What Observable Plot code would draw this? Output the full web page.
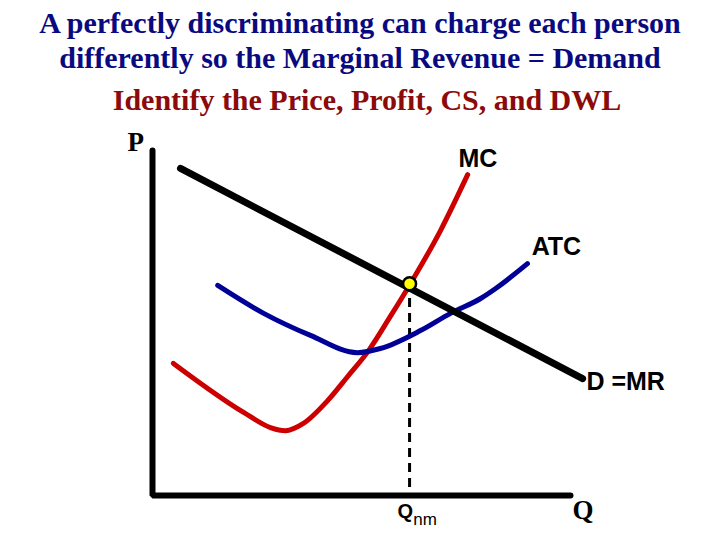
<!DOCTYPE html>
<html>
<head>
<meta charset="utf-8">
<script src="https://cdn.jsdelivr.net/npm/d3@7"></script>
<script src="https://cdn.jsdelivr.net/npm/@observablehq/plot@0.6"></script>
<style>
  html, body { margin: 0; padding: 0; background: #fff; }
  #page { position: relative; width: 720px; height: 540px; overflow: hidden; background: #fff; }
  .title { position: absolute; left: 0; width: 720px; text-align: center; font-family: "Liberation Serif", serif; font-weight: bold; font-size: 30px; line-height: 30px; white-space: nowrap; }
  #chart { position: absolute; left: 0; top: 120px; }
</style>
</head>
<body>
<div id="page">
  <div class="title" style="top:8px; color:#0a0a80;">A perfectly discriminating can charge each person</div>
  <div class="title" style="top:43px; color:#0a0a80;">differently so the Marginal Revenue = Demand</div>
  <div class="title" style="top:85px; left:7px; color:#8b0a0a;">Identify the Price, Profit, CS, and DWL</div>
  <div id="chart"></div>
</div>
<script>
// Axes (quantity, price)
const axisQ = [0, 0, 10];
const axisP = [10, 0, 0];

// Demand = MR line
const demandQ = [0.67, 10.29];
const demandP = [9.48, 3.39];

// Marginal cost curve
const mcQ = [0.50, 2.18, 2.82, 3.18, 3.61, 4.19, 4.67, 5.17, 5.69, 6.17, 6.89, 7.54];
const mcP = [3.83, 2.41, 1.97, 1.88, 2.09, 2.75, 3.45, 4.20, 5.19, 6.14, 7.68, 9.30];

// Average total cost curve
const atcQ = [1.56, 2.66, 3.78, 4.90, 5.45, 6.41, 7.13, 7.85, 8.21, 8.97];
const atcP = [6.09, 5.28, 4.64, 4.14, 4.26, 4.78, 5.28, 5.71, 6.00, 6.72];

// Equilibrium point (MC = D)
const eqQ = [6.15];
const eqP = [6.14];

// Curve labels
const curveLabels = ["MC", "ATC", "D =MR"];
const curveLabelQ = [7.32, 9.07, 10.38];
const curveLabelP = [9.74, 7.20, 3.29];

// Axis labels
const axisLabels = ["P", "Q"];
const axisLabelQ = [-0.60, 10.05];
const axisLabelP = [10.23, -0.43];

// Quantity label Q_nm
const qnmMain = ["Q"];
const qnmSub = ["nm"];
const qnmQ = [5.86];
const qnmP = [-0.46];
const qnmSubQ = [6.24];
const qnmSubP = [-0.70];

const idx = a => a.map((_, i) => i);

const chart = Plot.plot({
  width: 720,
  height: 420,
  marginLeft: 152,
  marginRight: 150,
  marginTop: 30,
  marginBottom: 45,
  x: { domain: [0, 10], axis: null },
  y: { domain: [0, 10], axis: null },
  marks: [
    // dashed drop line
    Plot.ruleX(eqQ, { x: d => d, y1: 0.23, y2: eqP[0], stroke: "black", strokeWidth: 3, strokeDasharray: "9,6" }),
    // MC
    Plot.line(idx(mcQ), { x: i => mcQ[i], y: i => mcP[i], curve: "monotone-x", stroke: "#cc0000", strokeWidth: 5 }),
    // ATC
    Plot.line(idx(atcQ), { x: i => atcQ[i], y: i => atcP[i], curve: "monotone-x", stroke: "#000099", strokeWidth: 5 }),
    // Demand = MR
    Plot.line(idx(demandQ), { x: i => demandQ[i], y: i => demandP[i], stroke: "black", strokeWidth: 7 }),
    // axes
    Plot.line(idx(axisQ), { x: i => axisQ[i], y: i => axisP[i], stroke: "black", strokeWidth: 6, strokeLinejoin: "miter" }),
    // equilibrium point
    Plot.dot(idx(eqQ), { x: i => eqQ[i], y: i => eqP[i], r: 6.5, fill: "#ffff00", stroke: "black", strokeWidth: 2.5 }),
    // curve labels
    Plot.text(idx(curveLabels), { x: i => curveLabelQ[i], y: i => curveLabelP[i], text: i => curveLabels[i], textAnchor: "start", fontFamily: "Liberation Sans, Arial, sans-serif", fontWeight: "bold", fontSize: 25, fill: "black" }),
    // axis labels
    Plot.text(idx(axisLabels), { x: i => axisLabelQ[i], y: i => axisLabelP[i], text: i => axisLabels[i], textAnchor: "start", fontFamily: "Liberation Serif, serif", fontWeight: "bold", fontSize: 27, fill: "black" }),
    // Q_nm
    Plot.text(idx(qnmMain), { x: i => qnmQ[i], y: i => qnmP[i], text: i => qnmMain[i], textAnchor: "start", fontFamily: "Liberation Sans, Arial, sans-serif", fontWeight: "bold", fontSize: 20, fill: "black" }),
    Plot.text(idx(qnmSub), { x: i => qnmSubQ[i], y: i => qnmSubP[i], text: i => qnmSub[i], textAnchor: "start", fontFamily: "Liberation Sans, Arial, sans-serif", fontSize: 17, fill: "black" })
  ]
});
document.getElementById("chart").appendChild(chart);
</script>
</body>
</html>
